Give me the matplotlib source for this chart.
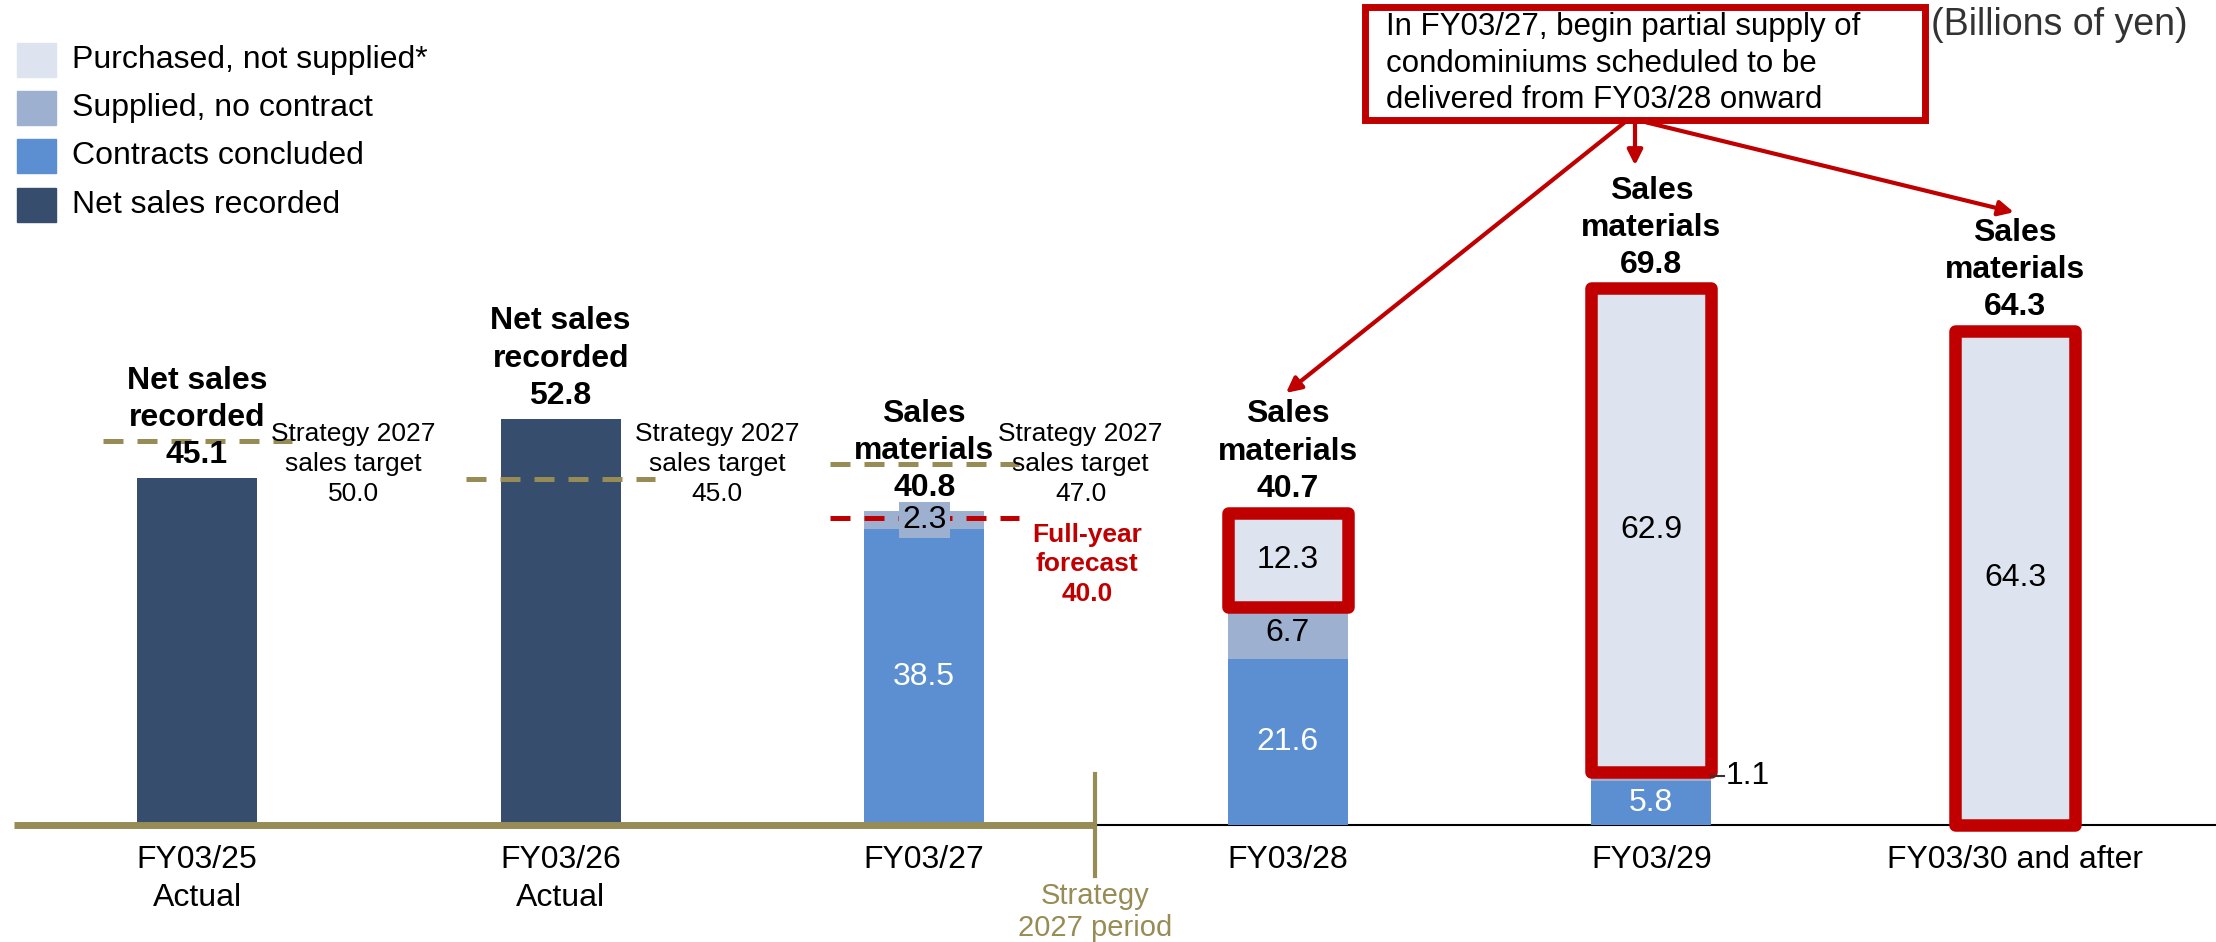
import numpy as np
import matplotlib
matplotlib.use('Agg')
import matplotlib.pyplot as plt
from matplotlib.patches import Rectangle

plt.rcParams['font.family'] = ['Liberation Sans', 'DejaVu Sans']

# values in billions of yen
categories = ["FY03/25\nActual", "FY03/26\nActual", "FY03/27", "FY03/28", "FY03/29", "FY03/30 and after"]
net_sales = [45.1, 52.8, 0, 0, 0, 0]
contracts = [0, 0, 38.5, 21.6, 5.8, 0]
supplied = [0, 0, 2.3, 6.7, 1.1, 0]
purchased = [0, 0, 0, 12.3, 62.9, 64.3]
totals = [45.1, 52.8, 40.8, 40.7, 69.8, 64.3]
headers = ["Net sales\nrecorded", "Net sales\nrecorded", "Sales\nmaterials",
           "Sales\nmaterials", "Sales\nmaterials", "Sales\nmaterials"]
targets = [50.0, 45.0, 47.0]
forecast = 40.0
legend_labels = ["Purchased, not supplied*", "Supplied, no contract",
                 "Contracts concluded", "Net sales recorded"]
note = "In FY03/27, begin partial supply of\ncondominiums scheduled to be\ndelivered from FY03/28 onward"

NAVY = "#374D6E"
BLUE = "#5B8FD1"
GREYBLUE = "#9DB0D0"
PALE = "#DEE4EF"
GOLD = "#978C55"
RED = "#C00000"

fig = plt.figure(figsize=(22.16, 9.42), dpi=100)
ax = fig.add_axes([0, 0, 1, 1])
x_lo, x_hi = -0.542, 5.553
ax.set_xlim(x_lo, x_hi)
ax.set_ylim(-15.2, 107.3)
ax.axis('off')

x = np.arange(len(categories))
w = 0.33
contracts_a = np.array(contracts)
supplied_a = np.array(supplied)
ax.bar(x, net_sales, w, color=NAVY, zorder=2)
ax.bar(x, contracts, w, color=BLUE, zorder=2)
ax.bar(x, supplied, w, bottom=contracts_a, color=GREYBLUE, zorder=2)
pur_bars = ax.bar(x, purchased, w, bottom=contracts_a + supplied_a, color=PALE, zorder=2)

# segment labels
for i in x:
    if contracts[i] >= 3:
        ax.text(i, contracts[i] / 2, f"{contracts[i]:.1f}", ha='center', va='center',
                fontsize=23, color='white', zorder=5)
    if supplied[i] >= 2:
        kw = {}
        if supplied[i] < 4:
            kw['bbox'] = dict(boxstyle='square,pad=0.1', fc=GREYBLUE, ec='none')
        ax.text(i, contracts[i] + supplied[i] / 2, f"{supplied[i]:.1f}", ha='center', va='center',
                fontsize=23, color='black', zorder=4, **kw)
    elif supplied[i] > 0:
        ym = contracts[i] + supplied[i] / 2
        ax.plot([i + w / 2, i + w / 2 + 0.035], [ym, ym], color='#333333', lw=1.5, zorder=5)
        ax.text(i + w / 2 + 0.04, ym, f"{supplied[i]:.1f}", ha='left', va='center',
                fontsize=23, color='black', zorder=5)
    if purchased[i] > 0:
        ax.text(i, contracts[i] + supplied[i] + purchased[i] / 2, f"{purchased[i]:.1f}",
                ha='center', va='center', fontsize=23, color='black', zorder=5)

# red frames around the purchased, not supplied blocks
for r in pur_bars:
    if r.get_height() > 0:
        ax.add_patch(Rectangle((r.get_x(), r.get_y()), r.get_width(), r.get_height(),
                               fill=False, ec=RED, lw=9, joinstyle='round', zorder=4))

# headline label above every bar
for i in x:
    ax.text(i, totals[i] + 1.1, f"{headers[i]}\n{totals[i]:.1f}", ha='center', va='bottom',
            fontsize=23, fontweight='bold', linespacing=1.31, zorder=6)

# Strategy 2027 sales targets
for i, t in enumerate(targets):
    ax.plot([i - 0.26, i + 0.26], [t, t], color=GOLD, lw=3.6, dashes=(4, 2.8), zorder=3)
    ax.text(i + 0.43, 47.0, f"Strategy 2027\nsales target\n{t:.1f}", ha='center', va='center',
            fontsize=19, linespacing=1.31, zorder=6)

# full-year forecast for FY03/27
ax.plot([2 - 0.26, 2 + 0.26], [forecast, forecast], color=RED, lw=3.6, dashes=(4, 2.8), zorder=3)
ax.text(2.448, 33.9, f"Full-year\nforecast\n{forecast:.1f}", ha='center', va='center',
        fontsize=19, fontweight='bold', color=RED, linespacing=1.3)

# baseline and strategy period marker
split = 2.47
ax.plot([-0.503, split], [0, 0], color=GOLD, lw=5, solid_capstyle='butt', zorder=3)
ax.plot([split, x_hi], [0, 0], color='black', lw=1.5, zorder=1)
ax.plot([split, split], [-6.6, 6.6], color=GOLD, lw=3, zorder=3)
ax.text(split, -11.3, "Strategy\n2027 period", ha='center', va='center', fontsize=21,
        color=GOLD, linespacing=1.15)

# category labels
for i, c in enumerate(categories):
    ax.text(i, -2.65, c, ha='center', va='top', fontsize=23, linespacing=1.31)

# legend
leg_y = [99.5, 93.3, 87.0, 80.6]
leg_colors = [PALE, GREYBLUE, BLUE, NAVY]
for yy, col, lab in zip(leg_y, leg_colors, legend_labels):
    ax.add_patch(Rectangle((-0.495, yy - 2.2), 0.107, 4.4, color=col))
    ax.text(-0.344, yy, lab, ha='left', va='center', fontsize=23)

ax.text(5.476, 104.0, "(Billions of yen)", ha='right', va='center', fontsize=27, color='#333333')

# note box with arrows
ax.add_patch(Rectangle((3.212, 91.7), 1.54, 14.7, fill=False, ec=RED, lw=5, zorder=6))
ax.text(3.27, 99.0, note, ha='left', va='center', fontsize=22.5, linespacing=1.28, zorder=6)
arrow = dict(arrowstyle='-|>,head_length=0.9,head_width=0.45', color=RED, lw=3,
             shrinkA=0, shrinkB=0)
ax.annotate("", xy=(3.955, 85.8), xytext=(3.955, 91.4), arrowprops=arrow)
ax.annotate("", xy=(2.995, 56.2), xytext=(3.927, 91.4), arrowprops=arrow)
ax.annotate("", xy=(4.997, 79.7), xytext=(3.985, 91.4), arrowprops=arrow)

fig.savefig("out.png", dpi=100)
